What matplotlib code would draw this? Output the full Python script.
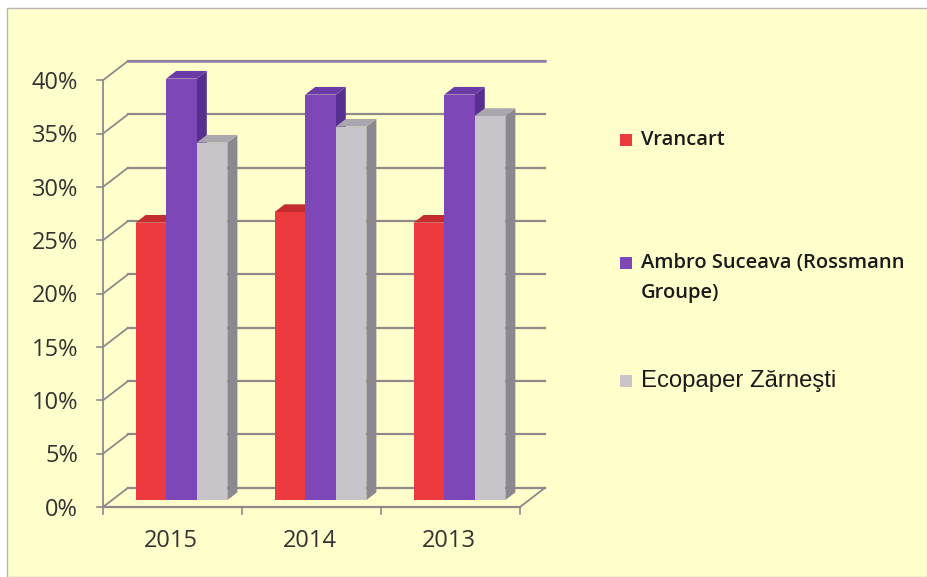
import matplotlib.pyplot as plt
from matplotlib.patches import Polygon, Rectangle

# data
years = ["2015", "2014", "2013"]
series = ["Vrancart", "Ambro Suceava (Rossmann\nGroupe)", "Ecopaper Zărneşti"]
vrancart = [26.0, 27.0, 26.0]
ambro = [39.5, 38.0, 38.0]
ecopaper = [33.5, 35.0, 36.0]
values = [vrancart, ambro, ecopaper]
yticks = [0, 5, 10, 15, 20, 25, 30, 35, 40]
ytick_labels = ["0%", "5%", "10%", "15%", "20%", "25%", "30%", "35%", "40%"]

# colours: front, side, top
front_c = ["#ec3a3e", "#7d47b8", "#c9c4c9"]
side_c = ["#a8262a", "#57308f", "#8b8890"]
top_c = ["#c42c30", "#6a3aa6", "#aaa6ad"]
bg = "#ffffcc"
grid_c = "#8e8a8c"

# fake 3d depth (in data units)
DX, DY = 0.18, 1.8
F = 0.36           # where the bar fronts sit in the depth
BD = 0.40          # bar depth as a fraction of the full depth
BW = 0.22          # bar width
G0 = 0.17          # start of the group inside a category

fig = plt.figure(figsize=(9.28, 5.77), dpi=100)
fig.patch.set_facecolor("white")
fig.patches.append(Rectangle((7 / 928, 0), 1, 1 - 8 / 577, transform=fig.transFigure,
                             facecolor=bg, edgecolor="#b8b4b8", linewidth=1.0, zorder=-10))

ax = fig.add_axes([103 / 928, 70 / 577, 442 / 928, 446 / 577])
ax.set_xlim(0, 3 + DX)
ax.set_ylim(0, 40 + DY)
ax.axis("off")

n = len(years)

# back wall gridlines + left wall diagonals
for v in yticks:
    ax.plot([DX, n + DX], [v + DY, v + DY], color=grid_c, lw=1.6, zorder=1, clip_on=False)
    ax.plot([0, DX], [v, v + DY], color=grid_c, lw=1.3, zorder=1, clip_on=False)
    ax.plot([-0.045, 0], [v, v], color=grid_c, lw=1.2, zorder=1, clip_on=False)
ax.plot([DX, n + DX], [40 + DY, 40 + DY], color="#8a80a8", lw=1.8, zorder=1, clip_on=False)

# left axis and floor
ax.plot([0, 0], [0, 40], color=grid_c, lw=1.3, zorder=1, clip_on=False)
ax.plot([0, n], [0, 0], color=grid_c, lw=1.6, zorder=1, clip_on=False)
ax.plot([n, n + DX], [0, DY], color=grid_c, lw=1.3, zorder=1, clip_on=False)
for i in range(n + 1):
    ax.plot([i, i], [0, -0.7], color=grid_c, lw=1.2, zorder=1, clip_on=False)

# bars
z = 2
for c in range(n):
    for s in range(len(series)):
        v = values[s][c]
        x0 = c + G0 + s * BW + F * DX
        y0 = F * DY
        ddx, ddy = BD * DX, BD * DY
        side = Polygon([(x0 + BW, y0), (x0 + BW + ddx, y0 + ddy),
                        (x0 + BW + ddx, y0 + ddy + v), (x0 + BW, y0 + v)],
                       closed=True, facecolor=side_c[s], edgecolor="none", zorder=z)
        top = Polygon([(x0, y0 + v), (x0 + ddx, y0 + v + ddy),
                       (x0 + BW + ddx, y0 + v + ddy), (x0 + BW, y0 + v)],
                      closed=True, facecolor=top_c[s], edgecolor="none", zorder=z)
        ax.add_patch(side)
        ax.add_patch(top)
        ax.bar(x0, v, width=BW, bottom=y0, align="edge", color=front_c[s],
               edgecolor="none", zorder=z + 0.5)
        z += 1

# tick labels
font = "Open Sans"
for v, lab in zip(yticks, ytick_labels):
    ax.text(-0.18, v - 0.25, lab, ha="right", va="center", fontsize=17,
            family=font, color="#333333", clip_on=False)
for i, yr in enumerate(years):
    ax.text(i + 0.49, -3.2, yr, ha="center", va="center", fontsize=17,
            family=font, color="#333333", clip_on=False)

# legend
leg_y = [140, 263, 381]
for s in range(len(series)):
    yf = 1 - leg_y[s] / 577
    fig.patches.append(Rectangle((620 / 928, yf - 6 / 577), 12 / 928, 12 / 577,
                                 transform=fig.transFigure, facecolor=front_c[s],
                                 edgecolor="none"))
    lines = series[s].split("\n")
    for k, line in enumerate(lines):
        if s == 2:
            fig.text(641 / 928, yf, line, ha="left", va="center", fontsize=17.2,
                     family="Liberation Sans", color="#1a1a1a")
        else:
            fig.text(641 / 928, yf - k * 30 / 577, line, ha="left", va="center",
                     fontsize=14.5, family=font, fontweight="semibold", color="#1a1a1a")

fig.savefig("out.png", dpi=100, facecolor=fig.get_facecolor())
